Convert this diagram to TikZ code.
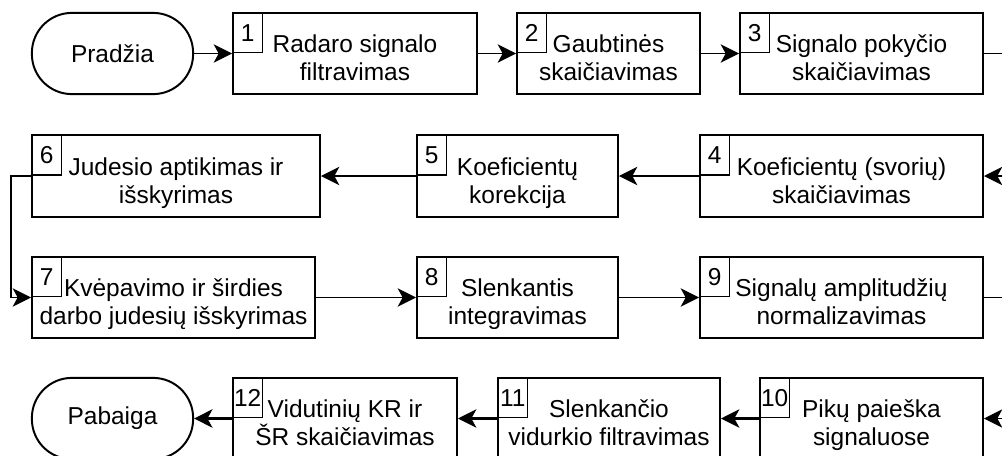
\documentclass[tikz,border=0pt]{standalone}
\usepackage{fontspec}
\setmainfont{Liberation Sans}
\usetikzlibrary{arrows.meta}
\tikzset{
  every picture/.style={font=\fontsize{17.4}{20}\selectfont, line width=1.4pt},
  stepbox/.style={draw, minimum width=#1*0.025cm, minimum height=2.03cm, align=center, inner sep=0pt,
    execute at end node={\rule[-5pt]{0pt}{5pt}}},
  numbox/.style={draw, line width=1pt, minimum width=0.75cm, minimum height=1cm, inner sep=0pt, anchor=north west},
  term/.style={draw, rounded corners=1cm, minimum width=4.03cm, minimum height=2.03cm},
  arrow/.style={-{Stealth[length=13pt, width=13pt, inset=3.5pt]}, line width=1.4pt},
  thickarrow/.style={arrow, line width=2pt},
}
\begin{document}
\begin{tikzpicture}[x=0.025cm, y=-0.025cm]
  \useasboundingbox (0,0) rectangle (1002,455);
  \clip (0,0) rectangle (1002,455);
  \node[term] (start) at (112.5,53.5) {Pradžia};
  \node[term] (end) at (112.5,418.5) {Pabaiga};
  \foreach \n/\x/\y/\w/\txt in {
    1/355/53.5/244/{Radaro signalo\\filtravimas},
    2/608.5/53.5/183/{Gaubtinės\\skaičiavimas},
    3/861.5/53.5/243/{Signalo pokyčio\\skaičiavimas},
    4/841.5/176/283/{Koeficientų (svorių)\\skaičiavimas},
    5/517.5/176/201/{Koeficientų\\korekcija},
    6/176/176/288/{Judesio aptikimas ir\\išskyrimas},
    7/173.5/297.5/283/{Kvėpavimo ir širdies\\darbo judesių išskyrimas},
    8/517.5/297.5/201/{Slenkantis\\integravimas},
    9/841.5/297.5/283/{Signalų amplitudžių\\normalizavimas},
    10/871.5/418.5/223/{Pikų paieška\\signaluose},
    11/609/418.5/222/{Slenkančio\\vidurkio filtravimas},
    12/345/418.5/224/{Vidutinių KR ir\\ŠR skaičiavimas}} {
    \node[stepbox=\w] (s\n) at (\x,\y) {\rule{0pt}{24pt}\txt};
    \node[numbox] (n\n) at (s\n.north west) {\n};
  }
  % flow
  \draw[arrow] (start) -- (s1);
  \draw[arrow] (s1) -- (s2);
  \draw[arrow] (s2) -- (s3);
  \draw[arrow] (s3.east) -- ++(40,0) |- (s4.east);
  \draw[arrow] (s4) -- (s5);
  \draw[arrow] (s5) -- (s6);
  \draw[arrow] (s6.west) -- ++(-20,0) |- (s7.west);
  \draw[arrow] (s7) -- (s8);
  \draw[arrow] (s8) -- (s9);
  \draw[arrow] (s9.east) -- ++(40,0) |- (s10.east);
  \draw[thickarrow] (s10) -- (s11);
  \draw[thickarrow] (s11) -- (s12);
  \draw[thickarrow] (s12) -- (end);
\end{tikzpicture}
\end{document}
